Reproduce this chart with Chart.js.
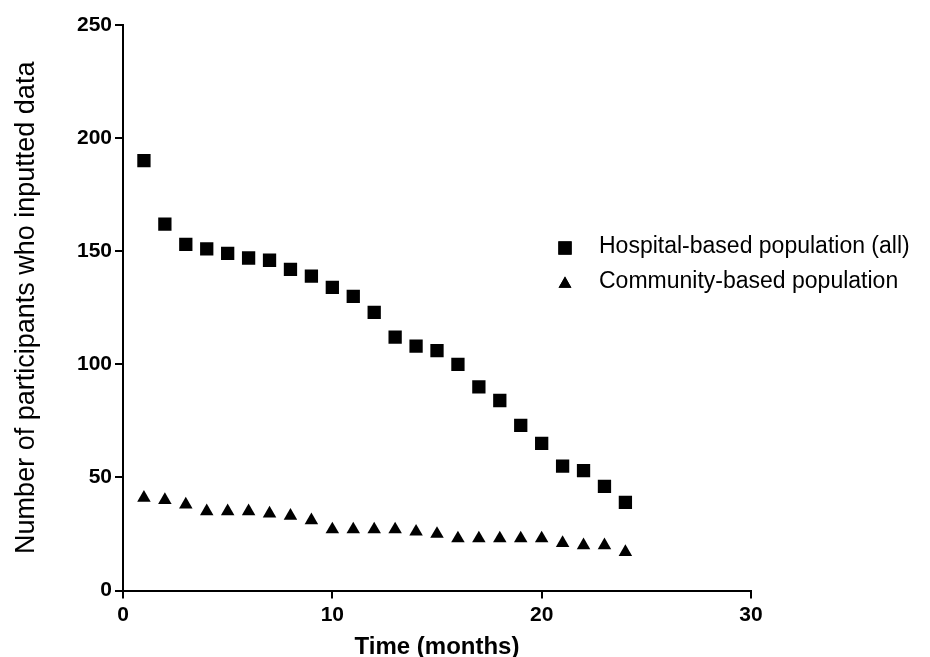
<!DOCTYPE html>
<html>
<head>
<meta charset="utf-8">
<script src="https://cdn.jsdelivr.net/npm/chart.js@4/dist/chart.umd.min.js"></script>
<style>
html,body{margin:0;padding:0;background:#fff;}
#wrap{width:930px;height:657px;position:relative;}
</style>
</head>
<body>
<div id="wrap"><canvas id="c" width="930" height="657"></canvas></div>
<script>
const months = [1,2,3,4,5,6,7,8,9,10,11,12,13,14,15,16,17,18,19,20,21,22,23,24];
const hospital = [190,162,153,151,149,147,146,142,139,134,130,123,112,108,106,100,90,84,73,65,55,53,46,39];
const community = [41,40,38,35,35,35,34,33,31,27,27,27,27,26,25,23,23,23,23,23,21,20,20,17];
const seriesNames = ['Hospital-based population (all)', 'Community-based population'];
const xTicks = [0,10,20,30];
const yTicks = [0,50,100,150,200,250];

const FONT = '"Liberation Sans", Arial, sans-serif';

const legendPlugin = {
  id: 'customLegend',
  afterDraw(chart) {
    const ctx = chart.ctx;
    const items = [
      {style: 'rect', radius: 9.4, mx: 565, my: 248, ty: 253, text: seriesNames[0]},
      {style: 'triangle', radius: 7.4, mx: 565, my: 284, ty: 288, text: seriesNames[1]}
    ];
    ctx.save();
    items.forEach(it => {
      ctx.fillStyle = '#000';
      ctx.strokeStyle = '#000';
      Chart.helpers.drawPoint(ctx, {pointStyle: it.style, radius: it.radius, rotation: 0, borderWidth: 0}, it.mx, it.my);
      ctx.fill();
      ctx.font = '23px ' + FONT;
      ctx.textBaseline = 'alphabetic';
      ctx.textAlign = 'left';
      ctx.fillText(it.text, 599, it.ty);
    });
    ctx.restore();
  }
};

new Chart(document.getElementById('c'), {
  type: 'scatter',
  data: {
    datasets: [
      {
        label: seriesNames[0],
        data: months.map((m, i) => ({x: m, y: hospital[i]})),
        pointStyle: 'rect',
        pointRadius: 9.4,
        backgroundColor: '#000',
        borderColor: '#000',
        borderWidth: 0
      },
      {
        label: seriesNames[1],
        data: months.map((m, i) => ({x: m, y: community[i]})),
        pointStyle: 'triangle',
        pointRadius: 7.8,
        backgroundColor: '#000',
        borderColor: '#000',
        borderWidth: 0
      }
    ]
  },
  options: {
    responsive: false,
    animation: false,
    layout: {padding: {left: 0, right: 179, top: 25, bottom: 0}},
    plugins: {legend: {display: false}, tooltip: {enabled: false}},
    scales: {
      x: {
        type: 'linear',
        min: 0, max: 30,
        afterBuildTicks: s => { s.ticks = xTicks.map(v => ({value: v})); },
        afterFit: s => { s.height = 66.5; },
        ticks: {color: '#000', font: {family: FONT, size: 21, weight: 'bold'}, padding: 4, maxRotation: 0},
        grid: {drawOnChartArea: false, drawTicks: true, tickLength: 8, color: '#000', lineWidth: 2},
        border: {display: true, color: '#000', width: 2},
        title: {display: true, text: 'Time (months)', color: '#000', font: {family: FONT, size: 24, weight: 'bold', lineHeight: 1.0}, padding: {top: 0, bottom: -2}}
      },
      y: {
        type: 'linear',
        min: 0, max: 250,
        afterBuildTicks: s => { s.ticks = yTicks.map(v => ({value: v})); },
        afterFit: s => { s.width = 123; },
        ticks: {color: '#000', font: {family: FONT, size: 21, weight: 'bold'}, padding: 3},
        grid: {drawOnChartArea: false, drawTicks: true, tickLength: 8, color: '#000', lineWidth: 2},
        border: {display: true, color: '#000', width: 2},
        title: {display: true, text: 'Number of participants who inputted data', color: '#000', font: {family: FONT, size: 27, weight: 'normal', lineHeight: 1.0}, padding: {top: 13, bottom: 0}}
      }
    }
  },
  plugins: [legendPlugin]
});
</script>
</body>
</html>
